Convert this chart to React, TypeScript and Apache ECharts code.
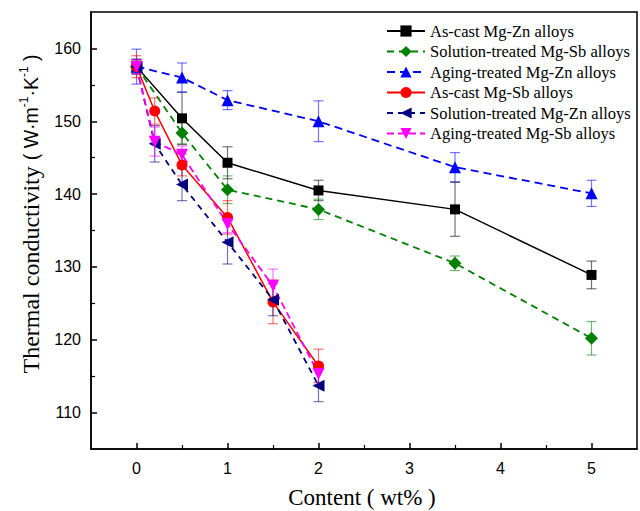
import React, { useEffect, useRef } from "react";
import * as echarts from "echarts";

const xZnType = [0, 0.5, 1, 2, 3.5, 5];
const xSbType = [0, 0.2, 0.5, 1, 1.5, 2];

const asCastZn = [157.5, 150.4, 144.3, 140.5, 137.9, 128.9];
const asCastZnErr = [1.0, 3.6, 2.2, 1.4, 3.7, 1.9];

const solSb = [157.5, 148.4, 140.6, 137.9, 130.5, 120.2];
const solSbErr = [0.8, 1.5, 1.9, 1.4, 1.0, 2.3];

const ageZn = [157.5, 156.0, 152.9, 150.0, 143.7, 140.1];
const ageZnErr = [2.4, 2.0, 1.3, 2.8, 2.0, 1.8];

const asCastSb = [157.5, 151.4, 144.0, 136.8, 125.2, 116.4];
const asCastSbErr = [1.5, 1.8, 1.5, 2.3, 3.0, 2.3];

const solZn = [157.5, 146.9, 141.3, 133.4, 125.5, 113.7];
const solZnErr = [1.0, 2.5, 2.2, 3.0, 2.2, 2.2];

const ageSb = [157.5, 147.2, 145.4, 135.9, 127.4, 115.3];
const ageSbErr = [1.0, 2.0, 1.2, 1.2, 2.3, 1.5];

const xTicks = [0, 1, 2, 3, 4, 5];
const xMinorTicks = [0.5, 1.5, 2.5, 3.5, 4.5];
const yTicks = [110, 120, 130, 140, 150, 160];
const yMinorTicks = [115, 125, 135, 145, 155];

const SERIF = "Liberation Serif";
const SANS = "Liberation Sans";

const seriesDefs = [
  { name: "As-cast Mg-Zn alloys", x: xZnType, y: asCastZn, err: asCastZnErr, color: "#000000", symbol: "rect", size: 10, rotate: 0, dash: "solid" as any },
  { name: "Solution-treated Mg-Sb alloys", x: xZnType, y: solSb, err: solSbErr, color: "#008000", symbol: "diamond", size: 13, rotate: 0, dash: [7, 5] },
  { name: "Aging-treated Mg-Zn alloys", x: xZnType, y: ageZn, err: ageZnErr, color: "#0000ff", symbol: "triangle", size: 12, rotate: 0, dash: [8, 5] },
  { name: "As-cast Mg-Sb alloys", x: xSbType, y: asCastSb, err: asCastSbErr, color: "#ff0000", symbol: "circle", size: 11, rotate: 0, dash: "solid" as any },
  { name: "Solution-treated Mg-Zn alloys", x: xSbType, y: solZn, err: solZnErr, color: "#000080", symbol: "triangle", size: 12, rotate: 90, dash: [6, 5] },
  { name: "Aging-treated Mg-Sb alloys", x: xSbType, y: ageSb, err: ageSbErr, color: "#ff00ff", symbol: "triangle", size: 12, rotate: 180, dash: [7, 4] },
];

export default function App() {
  const ref = useRef<HTMLDivElement>(null);
  useEffect(() => {
    if (!ref.current) return;
    const chart = echarts.init(ref.current, null, { renderer: "svg" });

    const errSeries = seriesDefs.map((s, i) => ({
      type: "custom",
      name: "err" + i,
      xAxisIndex: 0,
      yAxisIndex: 0,
      z: 1,
      silent: true,
      encode: { x: 0, y: 1 },
      data: s.x.map((xv, j) => [xv, s.y[j], s.err[j]]),
      renderItem: (params: any, api: any) => {
        const xv = api.value(0);
        const yv = api.value(1);
        const e = api.value(2);
        const top = api.coord([xv, yv + e]);
        const bot = api.coord([xv, yv - e]);
        const hw = 5;
        const st = { stroke: s.color, lineWidth: 1.2, opacity: 0.55 };
        return {
          type: "group",
          children: [
            { type: "line", shape: { x1: top[0], y1: top[1], x2: bot[0], y2: bot[1] }, style: st },
            { type: "line", shape: { x1: top[0] - hw, y1: top[1], x2: top[0] + hw, y2: top[1] }, style: st },
            { type: "line", shape: { x1: bot[0] - hw, y1: bot[1], x2: bot[0] + hw, y2: bot[1] }, style: st },
          ],
        };
      },
    }));

    const lineSeries = seriesDefs.map((s) => ({
      type: "line",
      name: s.name,
      xAxisIndex: 0,
      yAxisIndex: 0,
      z: 3,
      data: s.x.map((xv, j) => [xv, s.y[j]]),
      symbol: s.symbol,
      symbolSize: s.size,
      symbolRotate: s.rotate,
      showAllSymbol: true,
      color: s.color,
      itemStyle: { color: s.color },
      lineStyle: { color: s.color, width: s.dash === "solid" ? 1.5 : 1.8, type: s.dash },
    }));

    chart.setOption({
      animation: false,
      backgroundColor: "#fff",
      grid: { left: 91, right: 3, top: 12, bottom: 62, show: true, borderColor: "#000", borderWidth: 1.5, backgroundColor: "transparent" },
      legend: {
        data: seriesDefs.map((s) => s.name),
        orient: "vertical",
        left: 386,
        top: 21,
        padding: 0,
        itemWidth: 38,
        itemHeight: 14,
        itemGap: 0.5,
        textStyle: { fontFamily: SERIF, fontSize: 16.5, color: "#000", lineHeight: 20 },
      },
      xAxis: [
        {
          type: "value",
          min: -0.5,
          max: 5.5,
          axisLine: { onZero: false, lineStyle: { color: "#000", width: 1.5 } },
          axisTick: { inside: true, length: 6, customValues: xTicks, lineStyle: { color: "#000", width: 1.5 } },
          axisLabel: { fontFamily: SANS, fontSize: 16, color: "#000", margin: 11, customValues: xTicks },
          splitLine: { show: false },
        },
        {
          type: "value",
          min: -0.5,
          max: 5.5,
          position: "bottom",
          axisLine: { show: false, onZero: false },
          axisTick: { inside: true, length: 4, customValues: xMinorTicks, lineStyle: { color: "#000", width: 1.2 } },
          axisLabel: { show: false },
          splitLine: { show: false },
        },
      ],
      yAxis: [
        {
          type: "value",
          min: 105,
          max: 165,
          axisLine: { show: true, onZero: false, lineStyle: { color: "#000", width: 1.5 } },
          axisTick: { show: true, inside: true, length: 6, customValues: yTicks, lineStyle: { color: "#000", width: 1.5 } },
          axisLabel: { fontFamily: SANS, fontSize: 16, color: "#000", margin: 10, customValues: yTicks },
          splitLine: { show: false },
        },
        {
          type: "value",
          min: 105,
          max: 165,
          position: "left",
          axisLine: { show: false, onZero: false },
          axisTick: { show: true, inside: true, length: 4, customValues: yMinorTicks, lineStyle: { color: "#000", width: 1.2 } },
          axisLabel: { show: false },
          splitLine: { show: false },
        },
      ],
      graphic: [
        {
          type: "text",
          x: 31,
          y: 214,
          rotation: Math.PI / 2,
          style: {
            text: "{a|Thermal conductivity }{b|( W·m}{s|-1}{b|·K}{s|-1}{b| )}",
            align: "center",
            verticalAlign: "middle",
            rich: {
              a: { fontFamily: SERIF, fontSize: 24, fill: "#000", lineHeight: 26 },
              b: { fontFamily: SANS, fontSize: 19.5, fill: "#000", lineHeight: 26 },
              s: { fontFamily: SANS, fontSize: 12, fill: "#000", verticalAlign: "top", lineHeight: 26, padding: [0, 0, 10, 0] },
            },
          },
        },
        {
          type: "text",
          x: 362,
          y: 497,
          style: {
            text: "Content ( wt% )",
            align: "center",
            verticalAlign: "middle",
            fontFamily: SERIF,
            fontSize: 23,
            fill: "#000",
          },
        },
      ],
      series: [...errSeries, ...lineSeries],
    });
    return () => chart.dispose();
  }, []);
  return <div ref={ref} style={{ position: "absolute", left: 0, top: 0, width: 640, height: 511 }} />;
}
